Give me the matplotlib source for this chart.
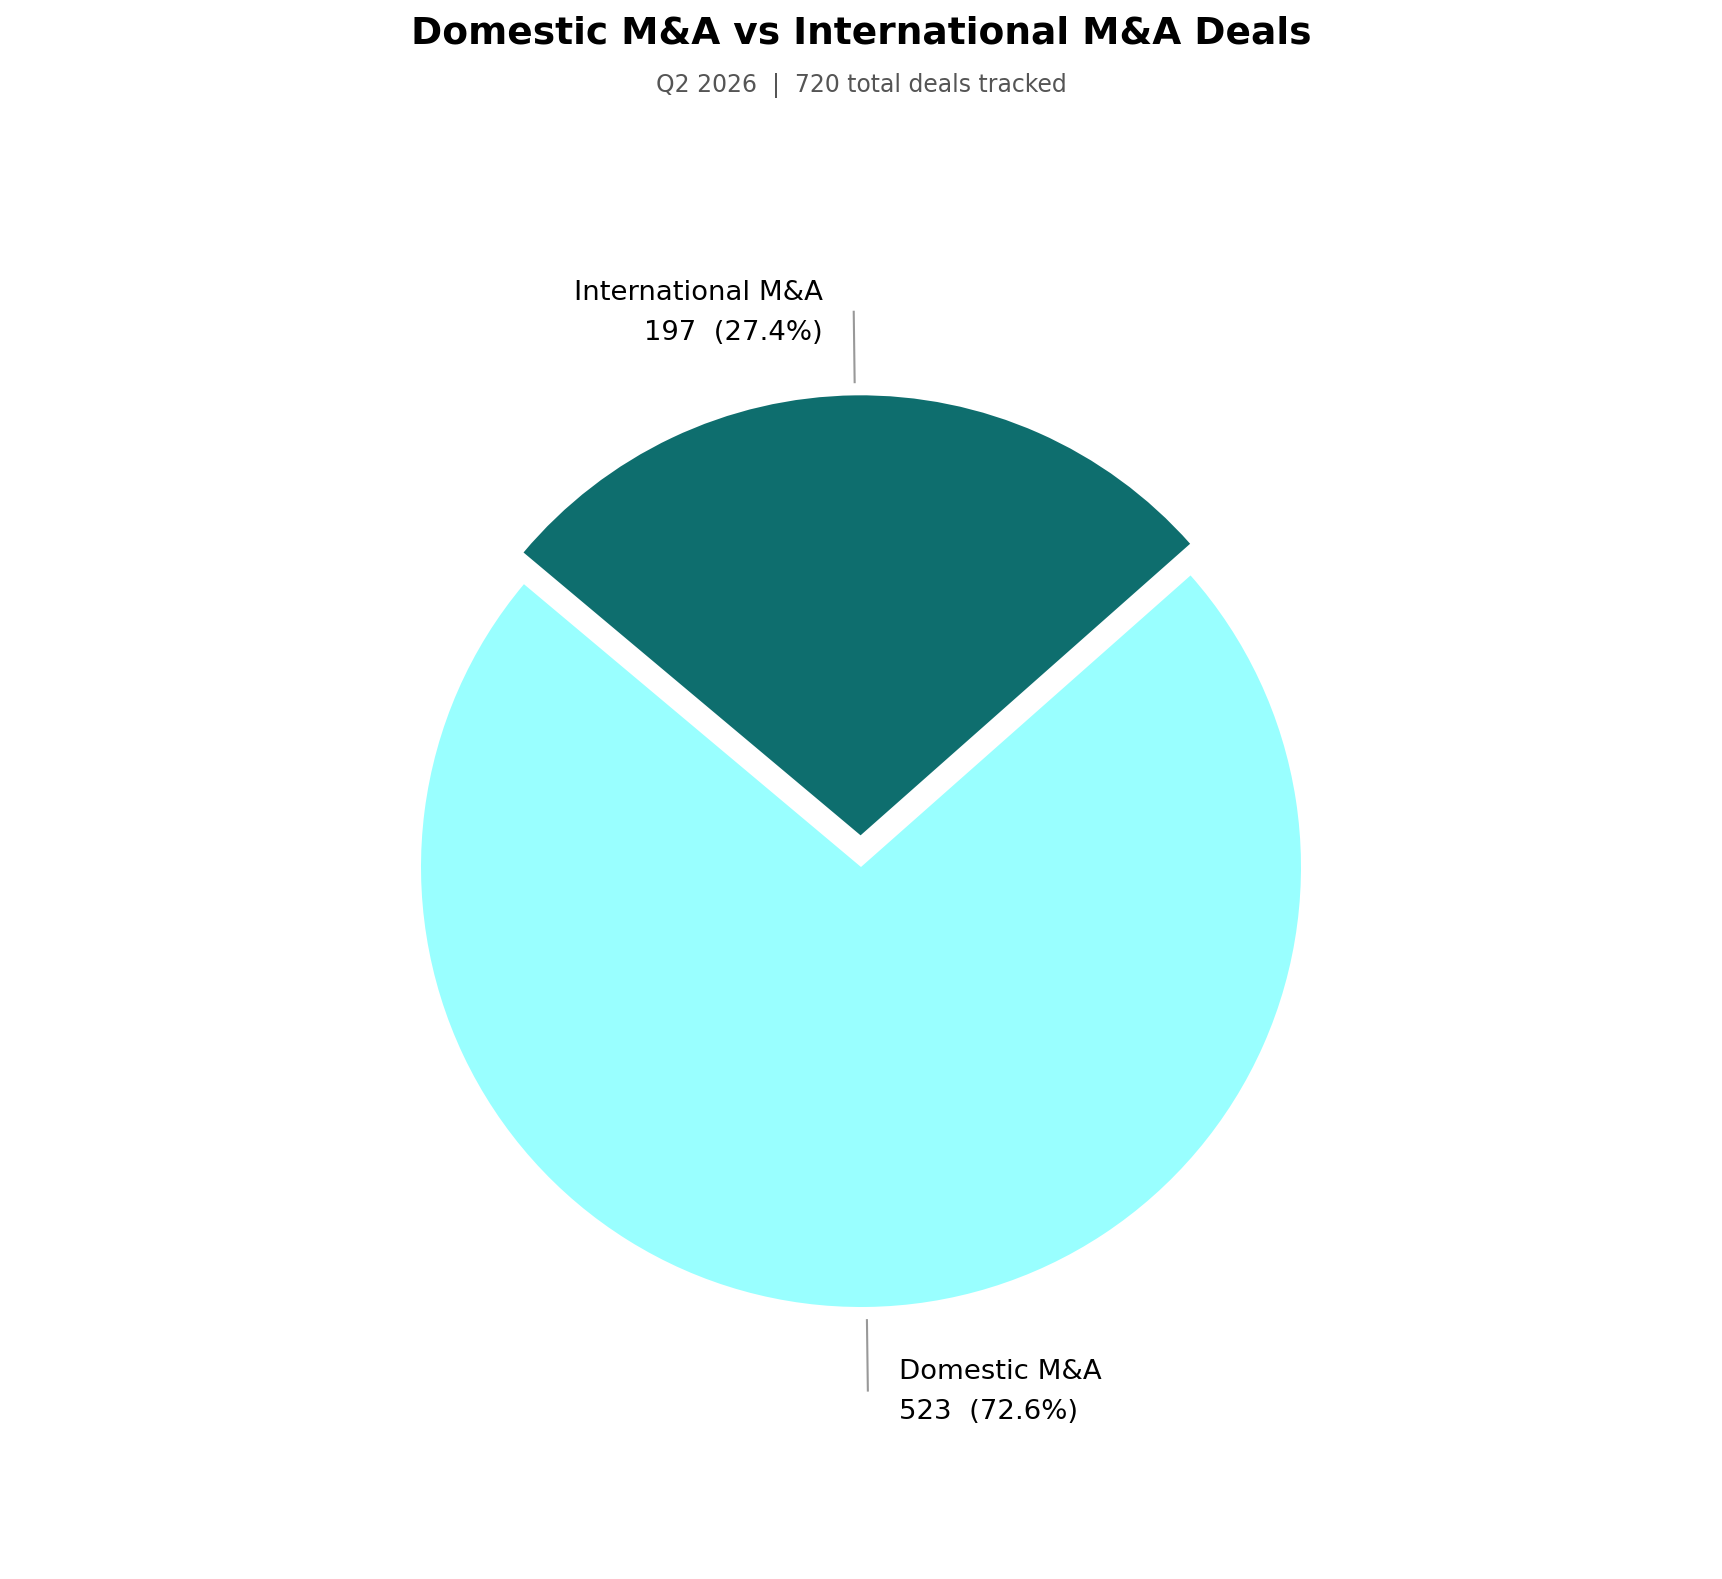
import numpy as np
import matplotlib
matplotlib.use("Agg")
import matplotlib.pyplot as plt

categories = ["Domestic M&A", "International M&A"]
deals = [523, 197]
colors = ["#99FFFF", "#0E6E6E"]
explode = [0.0, 0.072]

title = "Domestic M&A vs International M&A Deals"
subtitle = "Q2 2026  |  720 total deals tracked"

fig = plt.figure(figsize=(11.48, 10.5333), dpi=150)
ax = fig.add_axes([311/1722, 162/1580, 1100/1722, 1100/1580])
wedges, _ = ax.pie(deals, colors=colors, explode=explode, startangle=140,
                   counterclock=True)
ax.set_aspect("equal")
ax.set_xlim(-1.25, 1.25)
ax.set_ylim(-1.25, 1.25)

total = sum(deals)
for w, name, val, ex in zip(wedges, categories, deals, explode):
    mid = np.deg2rad((w.theta1 + w.theta2) / 2)
    cx, cy = ex * np.cos(mid), ex * np.sin(mid)
    x0, y0 = cx + 1.03 * np.cos(mid), cy + 1.03 * np.sin(mid)
    x1, y1 = cx + 1.19 * np.cos(mid), cy + 1.19 * np.sin(mid)
    ax.plot([x0, x1], [y0, y1], color="#999999", lw=1.0, clip_on=False)
    side = 1 if np.cos(mid) >= 0 else -1
    ax.text(x1 + side * 0.07, y1, f"{name}\n{val}  ({val / total * 100:.1f}%)",
            ha="left" if side > 0 else "right", va="center", fontsize=13.2,
            linespacing=1.7, color="black")

fig.text(0.5, 1 - 34/1580, title, ha="center", va="center", fontsize=18,
         fontweight="bold")
fig.text(0.5, 1 - 86/1580, subtitle, ha="center", va="center", fontsize=11.3,
         color="#555555")

fig.savefig("out.png", dpi=150)
